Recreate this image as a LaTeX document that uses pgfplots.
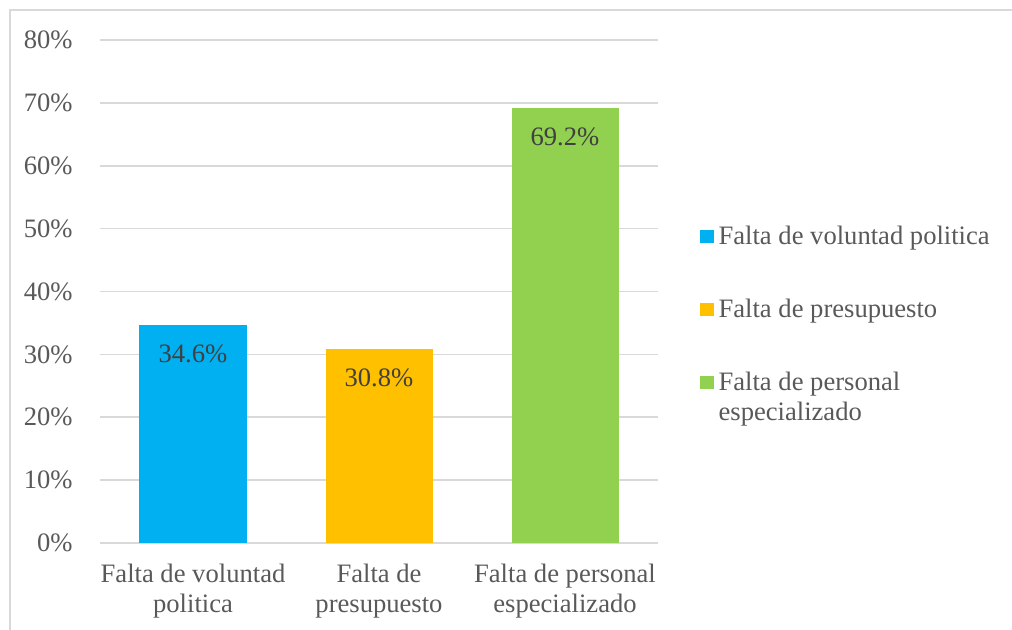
\documentclass[border=0pt]{standalone}
\usepackage{fontspec}
\setmainfont{Liberation Serif}
\usepackage{pgfplots}
\pgfplotsset{compat=1.18}
\definecolor{cBlue}{HTML}{00B0F0}
\definecolor{cOrange}{HTML}{FFC000}
\definecolor{cGreen}{HTML}{92D050}
\definecolor{cText}{HTML}{595959}
\definecolor{cLabel}{HTML}{404040}
\definecolor{cGrid}{HTML}{D9D9D9}
\newcommand\cf{\fontsize{13.3}{14.8}\selectfont}
\begin{document}
\begin{tikzpicture}
\path[use as bounding box] (-50pt,-43.5pt) rectangle (456pt,271.5pt);
\draw[cGrid, line width=1pt] (-45pt,-50pt) -- (-45pt,266.5pt) -- (460pt,266.5pt);
\begin{axis}[
  at={(0pt,0pt)}, anchor=south west,
  scale only axis, width=279pt, height=251.5pt,
  xmin=-0.5, xmax=2.5, ymin=0, ymax=80,
  ybar, bar width=53.5pt, bar shift=0pt,
  axis line style={draw=none},
  major tick length=0pt,
  ytick={0,10,...,80},
  yticklabel={\pgfmathprintnumber{\tick}\%},
  ymajorgrids, grid style={cGrid, line width=0.75pt},
  xtick={0,1,2},
  xticklabels={{Falta de voluntad\\politica},{Falta de\\presupuesto},{Falta de personal\\especializado}},
  xticklabel style={align=center, font=\cf, text=cText, anchor=north, inner sep=0pt, yshift=-10.4pt},
  yticklabel style={font=\cf, text=cText, anchor=east, inner sep=0pt, xshift=-13.5pt},
  /pgf/number format/assume math mode=true,
  nodes near coords={\pgfmathprintnumber[fixed,precision=1,fixed zerofill]{\pgfplotspointmeta}\%},
  every node near coord/.append style={font=\cf, text=cLabel, anchor=center, inner sep=0pt, yshift=-14.4pt},
  legend image code/.code={\fill[#1] (0pt,0.5pt) rectangle (6.6pt,7.2pt);},
  legend style={at={(1.07527,0.6387)}, anchor=north west, draw=none, fill=none, inner sep=0pt, row sep=22pt, column sep=0.5pt, font=\cf, text=cText, cells={anchor=base west, inner sep=0pt, text height=9pt, text depth=3pt}},
]
\addplot[fill=cBlue, draw=none, bar shift=0pt] coordinates {(0,34.6)};
\addlegendentry{Falta de voluntad politica}
\addplot[fill=cOrange, draw=none, bar shift=0pt] coordinates {(1,30.8)};
\addlegendentry{Falta de presupuesto}
\addplot[fill=cGreen, draw=none, bar shift=0pt] coordinates {(2,69.2)};
\addlegendentry{\renewcommand{\arraystretch}{1.02}\begin{tabular}[t]{@{}l@{}}Falta de personal\\especializado\end{tabular}}
\end{axis}
\end{tikzpicture}
\end{document}
